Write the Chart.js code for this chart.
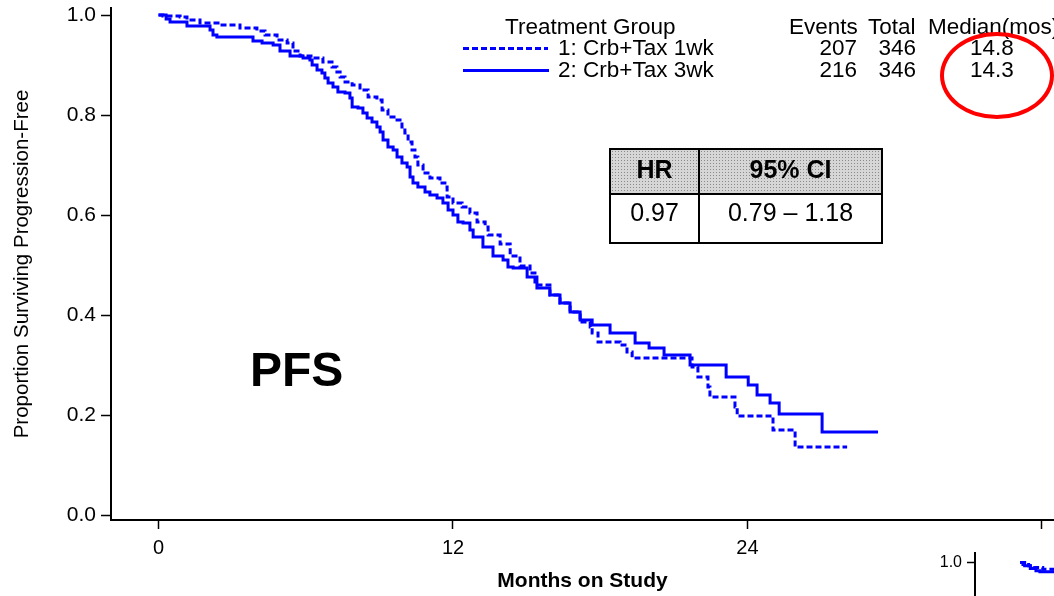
<!DOCTYPE html>
<html>
<head>
<meta charset="utf-8">
<script src="https://cdn.jsdelivr.net/npm/chart.js@4.4.1/dist/chart.umd.min.js"></script>
<style>
  body { margin: 0; background: #fff; overflow: hidden; }
  #wrap { position: relative; width: 1054px; height: 596px; overflow: hidden; font-family: 'Liberation Sans', Arial, sans-serif; color: #000; }
  #pfsChart { position: absolute; left: 0; top: 0; }
  #osChart { position: absolute; left: 930px; top: 545px; }
  .txt { position: absolute; font-size: 22.5px; line-height: 22px; white-space: nowrap; }
  .num { text-align: right; }
  .dashLine { position: absolute; height: 3px; background: repeating-linear-gradient(to right, #0000ff 0 6px, transparent 6px 9px); }
  .solidLine { position: absolute; height: 3px; background: #0000ff; }
  #ring { position: absolute; left: 940px; top: 32px; width: 114px; height: 87px; box-sizing: border-box; border: 4px solid #ff0000; border-radius: 50%; }
  #hrTable { position: absolute; left: 609px; top: 148px; border-collapse: collapse; table-layout: fixed; font-size: 25px; }
  #hrTable td, #hrTable th { border: 2px solid #000; text-align: center; padding: 0; }
  #hrTable th { height: 45px; padding-bottom: 5px; box-sizing: border-box; font-weight: bold; background-color: #d6d6d6;
    background-image: radial-gradient(#8a8a8a 0.7px, transparent 1px); background-size: 3px 3px; }
  #hrTable td { height: 49px; padding-bottom: 13px; box-sizing: border-box; }
  #pfs { position: absolute; left: 250px; top: 346px; font-size: 48px; line-height: 48px; font-weight: bold; }
</style>
</head>
<body>
<div id="wrap">
  <canvas id="pfsChart" width="1054" height="596"></canvas>
  <canvas id="osChart" width="124" height="51"></canvas>

  <div class="txt" style="left:505px; top:16px;">Treatment Group</div>
  <div class="dashLine" style="left:463px; top:47px; width:85px;"></div>
  <div class="solidLine" style="left:463px; top:69px; width:86px;"></div>
  <div class="txt" style="left:558px; top:37px;">1: Crb+Tax 1wk</div>
  <div class="txt" style="left:558px; top:59px;">2: Crb+Tax 3wk</div>

  <div class="txt" style="left:789px; top:16px;">Events</div>
  <div class="txt" style="left:868px; top:16px;">Total</div>
  <div class="txt" style="left:928px; top:16px;">Median(mos)</div>
  <div class="txt num" style="left:797px; width:60px; top:37px;">207</div>
  <div class="txt num" style="left:856px; width:60px; top:37px;">346</div>
  <div class="txt" style="left:970px; top:37px;">14.8</div>
  <div class="txt num" style="left:797px; width:60px; top:59px;">216</div>
  <div class="txt num" style="left:856px; width:60px; top:59px;">346</div>
  <div class="txt" style="left:970px; top:59px;">14.3</div>
  <div id="ring"></div>

  <table id="hrTable">
    <colgroup><col style="width:89px"><col style="width:183px"></colgroup>
    <tr><th>HR</th><th>95% CI</th></tr>
    <tr><td>0.97</td><td>0.79 – 1.18</td></tr>
  </table>

  <div id="pfs">PFS</div>
</div>

<script>
// Kaplan-Meier PFS (months, proportion free)
const months1wk = [0, 0.18, 0.88, 1.16, 1.69, 2.51, 3.32, 4.01, 4.34, 4.83, 5.24, 5.48, 5.77, 6.30, 6.70, 7.07,
  7.27, 7.40, 7.60, 7.89, 8.21, 8.54, 8.90, 9.11, 9.35, 9.72, 9.92, 10.04, 10.17, 10.33, 10.45, 10.57,
  10.78, 11.06, 11.47, 11.67, 11.76, 12.00, 12.37, 12.69, 12.98, 13.31, 13.43, 13.92, 14.33, 14.73, 15.14,
  15.34, 15.95, 16.36, 16.77, 17.18, 17.59, 17.67, 17.91, 18.81, 19.09, 19.30, 21.74, 21.98, 22.39, 22.47,
  23.49, 23.58, 25.04, 25.94, 28.06];
const surv1wk = [1.000, 0.998, 0.996, 0.990, 0.984, 0.980, 0.974, 0.968, 0.960, 0.950, 0.944, 0.928, 0.918, 0.914, 0.906, 0.896,
  0.886, 0.876, 0.866, 0.860, 0.850, 0.836, 0.830, 0.810, 0.796, 0.790, 0.776, 0.764, 0.746, 0.730, 0.716, 0.700,
  0.684, 0.674, 0.664, 0.656, 0.636, 0.624, 0.616, 0.604, 0.586, 0.576, 0.560, 0.542, 0.518, 0.498, 0.484,
  0.460, 0.440, 0.424, 0.406, 0.386, 0.376, 0.364, 0.346, 0.340, 0.326, 0.314, 0.296, 0.276, 0.256, 0.236,
  0.216, 0.198, 0.170, 0.136, 0.136];

const months3wk = [0, 0.31, 0.47, 1.16, 2.10, 2.22, 2.38, 3.85, 4.22, 4.67, 4.95, 5.36, 5.89, 6.17, 6.26, 6.46,
  6.66, 6.78, 6.91, 7.11, 7.31, 7.60, 7.80, 7.89, 8.13, 8.33, 8.50, 8.70, 8.90, 9.03, 9.15, 9.35,
  9.56, 9.72, 9.92, 10.13, 10.25, 10.37, 10.57, 10.86, 11.06, 11.35, 11.59, 11.80, 12.00, 12.20, 12.41, 12.69,
  12.82, 13.22, 13.63, 14.04, 14.24, 14.45, 15.02, 15.42, 15.95, 16.36, 16.77, 17.18, 17.67, 18.40, 19.42,
  19.99, 20.60, 21.66, 23.13, 24.03, 24.39, 24.92, 25.29, 27.04, 29.32];
const surv3wk = [1.000, 0.992, 0.986, 0.978, 0.970, 0.960, 0.956, 0.948, 0.944, 0.940, 0.928, 0.918, 0.914, 0.910, 0.900, 0.890,
  0.884, 0.874, 0.864, 0.856, 0.846, 0.844, 0.834, 0.816, 0.814, 0.804, 0.794, 0.786, 0.776, 0.766, 0.750, 0.736,
  0.730, 0.716, 0.704, 0.696, 0.676, 0.664, 0.656, 0.646, 0.640, 0.634, 0.624, 0.610, 0.600, 0.586, 0.584, 0.570,
  0.556, 0.536, 0.518, 0.510, 0.496, 0.494, 0.476, 0.454, 0.440, 0.424, 0.406, 0.390, 0.380, 0.364, 0.344,
  0.334, 0.320, 0.300, 0.276, 0.260, 0.240, 0.224, 0.202, 0.166, 0.166];

const xTickValues = [0, 12, 24, 36];
const xTickLabels = ['0', '12', '24', ''];
const yTickValues = [0, 0.2, 0.4, 0.6, 0.8, 1.0];
const yTickLabels = ['0.0', '0.2', '0.4', '0.6', '0.8', '1.0'];

// start of the next panel, cut off at the bottom right
const osMonths1wk = [0, 0.5, 1.5, 2.5, 4.0, 6.0];
const osSurv1wk = [1.000, 0.994, 0.990, 0.985, 0.980, 0.977];
const osMonths3wk = [0, 0.8, 1.8, 2.8, 3.5, 6.0];
const osSurv3wk = [1.000, 0.990, 0.982, 0.975, 0.972, 0.970];

const FONT = "'Liberation Sans', Arial, sans-serif";
const BLUE = '#0000ff';

function toPoints(xs, ys) {
  return xs.map((x, i) => ({ x: x, y: ys[i] }));
}

function kmDataset(label, xs, ys, dashed) {
  return {
    label: label,
    data: toPoints(xs, ys),
    borderColor: BLUE,
    borderWidth: 3,
    borderDash: dashed ? [6, 3] : [],
    stepped: 'before',
    pointRadius: 0,
    fill: false
  };
}

// drop the label overhang padding so the plot area sits where the layout says
function noPad(s) {
  s.paddingTop = 0;
  s.paddingBottom = 0;
  s.paddingLeft = 0;
  s.paddingRight = 0;
}

new Chart(document.getElementById('pfsChart').getContext('2d'), {
  type: 'line',
  data: {
    datasets: [
      kmDataset('1: Crb+Tax 1wk', months1wk, surv1wk, true),
      kmDataset('2: Crb+Tax 3wk', months3wk, surv3wk, false)
    ]
  },
  options: {
    responsive: false,
    animation: false,
    devicePixelRatio: 1,
    layout: { padding: { top: 8, right: 0, bottom: 0, left: 0 } },
    plugins: { legend: { display: false }, tooltip: { enabled: false } },
    scales: {
      x: {
        type: 'linear',
        min: -1.936,
        max: 36.49,
        afterBuildTicks: s => { s.ticks = xTickValues.map(v => ({ value: v })); },
        afterFit: s => { s.height = 76; noPad(s); },
        grid: { drawOnChartArea: false, drawTicks: true, tickLength: 9, color: '#000', tickWidth: 1.5 },
        border: { display: true, color: '#000', width: 2 },
        ticks: {
          color: '#000', padding: 7, maxRotation: 0, autoSkip: false,
          font: { family: FONT, size: 20 },
          callback: (v, i) => xTickLabels[i]
        },
        title: {
          display: true, text: 'Months on Study', color: '#000',
          font: { family: FONT, size: 21, weight: 'bold' },
          padding: { top: 0, bottom: 2 }
        }
      },
      y: {
        min: -0.01,
        max: 1.014,
        afterBuildTicks: s => { s.ticks = yTickValues.map(v => ({ value: v })); },
        afterFit: s => { s.width = 111; noPad(s); },
        grid: { drawOnChartArea: false, drawTicks: true, tickLength: 10, color: '#000', tickWidth: 1.5 },
        border: { display: true, color: '#000', width: 2 },
        ticks: {
          color: '#000', padding: 5,
          font: { family: FONT, size: 21 },
          callback: (v, i) => yTickLabels[i]
        },
        title: {
          display: true, text: 'Proportion Surviving Progression-Free', color: '#000',
          font: { family: FONT, size: 20.5 },
          padding: { top: 10, bottom: 0 }
        }
      }
    }
  }
});

new Chart(document.getElementById('osChart').getContext('2d'), {
  type: 'line',
  data: {
    datasets: [
      kmDataset('1: Crb+Tax 1wk', osMonths1wk, osSurv1wk, true),
      kmDataset('2: Crb+Tax 3wk', osMonths3wk, osSurv3wk, false)
    ]
  },
  options: {
    responsive: false,
    animation: false,
    devicePixelRatio: 1,
    layout: { padding: { top: 8, right: 0, bottom: 0, left: 0 } },
    plugins: { legend: { display: false }, tooltip: { enabled: false } },
    scales: {
      x: { type: 'linear', min: -8, max: 6, display: false, afterFit: s => { noPad(s); } },
      y: {
        min: 0.9,
        max: 1.028,
        afterBuildTicks: s => { s.ticks = [{ value: 1.0 }]; },
        afterFit: s => { s.width = 45; noPad(s); },
        grid: { drawOnChartArea: false, drawTicks: true, tickLength: 8, color: '#000', tickWidth: 1.5 },
        border: { display: true, color: '#000', width: 2 },
        ticks: { color: '#000', padding: 5, font: { family: FONT, size: 16 }, callback: () => '1.0' }
      }
    }
  }
});
</script>
</body>
</html>
